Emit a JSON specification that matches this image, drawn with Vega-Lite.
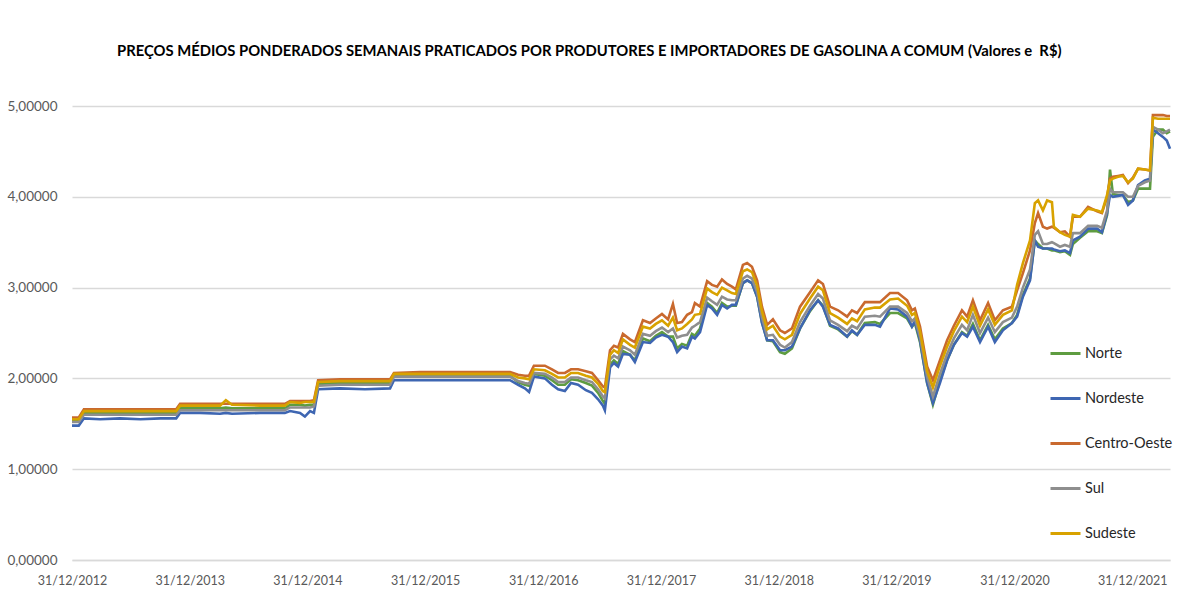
{
  "$schema": "https://vega.github.io/schema/vega-lite/v6.json",
  "width": 1098,
  "height": 454,
  "autosize": "none",
  "padding": {"left": 72, "top": 106, "right": 8, "bottom": 48},
  "background": "white",
  "title": {
    "text": "PREÇOS MÉDIOS PONDERADOS SEMANAIS PRATICADOS POR PRODUTORES E IMPORTADORES DE GASOLINA A COMUM (Valores e\u00a0 R$)",
    "anchor": "start",
    "frame": "group",
    "dx": 45,
    "offset": 25,
    "baseline": "bottom",
    "font": "Lato",
    "fontSize": 14.8,
    "fontWeight": "bold",
    "color": "#000000"
  },
  "data": {
    "values": [
      {"d": "2012-12-31", "CO": 1.57, "SE": 1.55, "S": 1.52, "N": 1.53, "NE": 1.48},
      {"d": "2013-01-21", "CO": 1.57, "SE": 1.55, "S": 1.52, "N": 1.53, "NE": 1.48},
      {"d": "2013-02-06", "CO": 1.66, "SE": 1.64, "S": 1.60, "N": 1.62, "NE": 1.56},
      {"d": "2013-03-28", "CO": 1.66, "SE": 1.64, "S": 1.60, "N": 1.62, "NE": 1.55},
      {"d": "2013-05-29", "CO": 1.66, "SE": 1.64, "S": 1.60, "N": 1.62, "NE": 1.56},
      {"d": "2013-07-31", "CO": 1.66, "SE": 1.64, "S": 1.60, "N": 1.62, "NE": 1.55},
      {"d": "2013-10-01", "CO": 1.66, "SE": 1.64, "S": 1.60, "N": 1.62, "NE": 1.56},
      {"d": "2013-11-19", "CO": 1.66, "SE": 1.64, "S": 1.60, "N": 1.62, "NE": 1.56},
      {"d": "2013-12-01", "CO": 1.72, "SE": 1.70, "S": 1.65, "N": 1.67, "NE": 1.62},
      {"d": "2014-02-01", "CO": 1.72, "SE": 1.70, "S": 1.65, "N": 1.67, "NE": 1.62},
      {"d": "2014-04-04", "CO": 1.72, "SE": 1.70, "S": 1.65, "N": 1.67, "NE": 1.61},
      {"d": "2014-04-22", "CO": 1.72, "SE": 1.76, "S": 1.65, "N": 1.68, "NE": 1.62},
      {"d": "2014-05-11", "CO": 1.72, "SE": 1.71, "S": 1.65, "N": 1.67, "NE": 1.61},
      {"d": "2014-08-06", "CO": 1.72, "SE": 1.70, "S": 1.65, "N": 1.67, "NE": 1.62},
      {"d": "2014-10-22", "CO": 1.72, "SE": 1.70, "S": 1.65, "N": 1.67, "NE": 1.62},
      {"d": "2014-11-07", "CO": 1.75, "SE": 1.74, "S": 1.68, "N": 1.71, "NE": 1.64},
      {"d": "2014-12-08", "CO": 1.75, "SE": 1.73, "S": 1.68, "N": 1.71, "NE": 1.62},
      {"d": "2014-12-23", "CO": 1.75, "SE": 1.74, "S": 1.68, "N": 1.70, "NE": 1.58},
      {"d": "2015-01-08", "CO": 1.75, "SE": 1.74, "S": 1.68, "N": 1.71, "NE": 1.64},
      {"d": "2015-01-20", "CO": 1.76, "SE": 1.74, "S": 1.69, "N": 1.71, "NE": 1.62},
      {"d": "2015-02-02", "CO": 1.98, "SE": 1.96, "S": 1.92, "N": 1.94, "NE": 1.88},
      {"d": "2015-04-11", "CO": 1.99, "SE": 1.97, "S": 1.93, "N": 1.95, "NE": 1.89},
      {"d": "2015-06-27", "CO": 1.99, "SE": 1.97, "S": 1.93, "N": 1.95, "NE": 1.88},
      {"d": "2015-09-13", "CO": 1.99, "SE": 1.97, "S": 1.93, "N": 1.95, "NE": 1.89},
      {"d": "2015-09-25", "CO": 2.06, "SE": 2.05, "S": 2.02, "N": 2.03, "NE": 1.98},
      {"d": "2015-12-15", "CO": 2.07, "SE": 2.05, "S": 2.02, "N": 2.03, "NE": 1.98},
      {"d": "2016-03-17", "CO": 2.07, "SE": 2.05, "S": 2.02, "N": 2.03, "NE": 1.98},
      {"d": "2016-06-18", "CO": 2.07, "SE": 2.05, "S": 2.02, "N": 2.03, "NE": 1.98},
      {"d": "2016-09-19", "CO": 2.07, "SE": 2.05, "S": 2.02, "N": 2.03, "NE": 1.98},
      {"d": "2016-10-14", "CO": 2.04, "SE": 2.01, "S": 1.97, "N": 1.96, "NE": 1.93},
      {"d": "2016-11-04", "CO": 2.03, "SE": 2.00, "S": 1.95, "N": 1.93, "NE": 1.89},
      {"d": "2016-11-17", "CO": 2.03, "SE": 1.99, "S": 1.94, "N": 1.92, "NE": 1.85},
      {"d": "2016-12-02", "CO": 2.14, "SE": 2.10, "S": 2.06, "N": 2.05, "NE": 2.02},
      {"d": "2017-01-05", "CO": 2.14, "SE": 2.09, "S": 2.05, "N": 2.03, "NE": 2.00},
      {"d": "2017-01-27", "CO": 2.10, "SE": 2.05, "S": 2.01, "N": 1.98, "NE": 1.93},
      {"d": "2017-02-15", "CO": 2.06, "SE": 2.01, "S": 1.96, "N": 1.93, "NE": 1.88},
      {"d": "2017-03-08", "CO": 2.06, "SE": 2.01, "S": 1.96, "N": 1.93, "NE": 1.86},
      {"d": "2017-03-27", "CO": 2.10, "SE": 2.06, "S": 2.01, "N": 1.99, "NE": 1.95},
      {"d": "2017-04-18", "CO": 2.10, "SE": 2.06, "S": 2.01, "N": 1.98, "NE": 1.93},
      {"d": "2017-05-12", "CO": 2.08, "SE": 2.03, "S": 1.98, "N": 1.95, "NE": 1.87},
      {"d": "2017-05-31", "CO": 2.06, "SE": 2.01, "S": 1.96, "N": 1.92, "NE": 1.84},
      {"d": "2017-06-19", "CO": 1.98, "SE": 1.94, "S": 1.88, "N": 1.84, "NE": 1.77},
      {"d": "2017-07-04", "CO": 1.91, "SE": 1.86, "S": 1.80, "N": 1.75, "NE": 1.70},
      {"d": "2017-07-10", "CO": 1.90, "SE": 1.85, "S": 1.78, "N": 1.72, "NE": 1.65},
      {"d": "2017-07-26", "CO": 2.31, "SE": 2.26, "S": 2.21, "N": 2.15, "NE": 2.12},
      {"d": "2017-08-07", "CO": 2.36, "SE": 2.31, "S": 2.25, "N": 2.20, "NE": 2.17},
      {"d": "2017-08-20", "CO": 2.34, "SE": 2.28, "S": 2.22, "N": 2.16, "NE": 2.13},
      {"d": "2017-09-04", "CO": 2.49, "SE": 2.43, "S": 2.35, "N": 2.30, "NE": 2.27},
      {"d": "2017-09-26", "CO": 2.43, "SE": 2.37, "S": 2.31, "N": 2.26, "NE": 2.26},
      {"d": "2017-10-11", "CO": 2.40, "SE": 2.34, "S": 2.26, "N": 2.20, "NE": 2.18},
      {"d": "2017-11-05", "CO": 2.64, "SE": 2.57, "S": 2.49, "N": 2.44, "NE": 2.40},
      {"d": "2017-11-27", "CO": 2.61, "SE": 2.55, "S": 2.47, "N": 2.41, "NE": 2.39},
      {"d": "2017-12-15", "CO": 2.66, "SE": 2.60, "S": 2.52, "N": 2.47, "NE": 2.45},
      {"d": "2018-01-03", "CO": 2.71, "SE": 2.64, "S": 2.56, "N": 2.51, "NE": 2.48},
      {"d": "2018-01-22", "CO": 2.65, "SE": 2.58, "S": 2.51, "N": 2.46, "NE": 2.46},
      {"d": "2018-02-06", "CO": 2.82, "SE": 2.67, "S": 2.55, "N": 2.46, "NE": 2.40},
      {"d": "2018-02-19", "CO": 2.61, "SE": 2.53, "S": 2.45, "N": 2.33, "NE": 2.29},
      {"d": "2018-03-06", "CO": 2.62, "SE": 2.55, "S": 2.47, "N": 2.38, "NE": 2.35},
      {"d": "2018-03-22", "CO": 2.70, "SE": 2.60, "S": 2.48, "N": 2.36, "NE": 2.33},
      {"d": "2018-04-06", "CO": 2.73, "SE": 2.65, "S": 2.56, "N": 2.49, "NE": 2.46},
      {"d": "2018-04-15", "CO": 2.83, "SE": 2.70, "S": 2.58, "N": 2.47, "NE": 2.44},
      {"d": "2018-05-01", "CO": 2.79, "SE": 2.71, "S": 2.62, "N": 2.55, "NE": 2.51},
      {"d": "2018-05-23", "CO": 3.07, "SE": 2.99, "S": 2.89, "N": 2.83, "NE": 2.81},
      {"d": "2018-06-07", "CO": 3.03, "SE": 2.95, "S": 2.85, "N": 2.79, "NE": 2.77},
      {"d": "2018-06-23", "CO": 3.01, "SE": 2.92, "S": 2.81, "N": 2.72, "NE": 2.70},
      {"d": "2018-07-08", "CO": 3.09, "SE": 3.00, "S": 2.90, "N": 2.83, "NE": 2.81},
      {"d": "2018-07-24", "CO": 3.04, "SE": 2.97, "S": 2.87, "N": 2.79, "NE": 2.77},
      {"d": "2018-08-08", "CO": 3.01, "SE": 2.94, "S": 2.86, "N": 2.80, "NE": 2.81},
      {"d": "2018-08-20", "CO": 2.98, "SE": 2.93, "S": 2.86, "N": 2.80, "NE": 2.81},
      {"d": "2018-09-11", "CO": 3.25, "SE": 3.18, "S": 3.10, "N": 3.05, "NE": 3.05},
      {"d": "2018-09-24", "CO": 3.27, "SE": 3.20, "S": 3.13, "N": 3.08, "NE": 3.08},
      {"d": "2018-10-09", "CO": 3.23, "SE": 3.17, "S": 3.10, "N": 3.05, "NE": 3.05},
      {"d": "2018-10-25", "CO": 3.08, "SE": 3.02, "S": 2.95, "N": 2.90, "NE": 2.90},
      {"d": "2018-11-09", "CO": 2.79, "SE": 2.74, "S": 2.67, "N": 2.62, "NE": 2.61},
      {"d": "2018-11-25", "CO": 2.59, "SE": 2.54, "S": 2.47, "N": 2.42, "NE": 2.42},
      {"d": "2018-12-13", "CO": 2.65, "SE": 2.58, "S": 2.48, "N": 2.41, "NE": 2.42},
      {"d": "2019-01-04", "CO": 2.53, "SE": 2.46, "S": 2.37, "N": 2.29, "NE": 2.31},
      {"d": "2019-01-19", "CO": 2.50, "SE": 2.43, "S": 2.34, "N": 2.27, "NE": 2.31},
      {"d": "2019-02-10", "CO": 2.55, "SE": 2.48, "S": 2.40, "N": 2.33, "NE": 2.35},
      {"d": "2019-03-07", "CO": 2.79, "SE": 2.71, "S": 2.62, "N": 2.55, "NE": 2.55},
      {"d": "2019-04-07", "CO": 2.95, "SE": 2.88, "S": 2.80, "N": 2.74, "NE": 2.75},
      {"d": "2019-05-02", "CO": 3.08, "SE": 3.01, "S": 2.93, "N": 2.86, "NE": 2.86},
      {"d": "2019-05-17", "CO": 3.04, "SE": 2.97, "S": 2.88, "N": 2.80, "NE": 2.79},
      {"d": "2019-06-08", "CO": 2.79, "SE": 2.72, "S": 2.64, "N": 2.58, "NE": 2.59},
      {"d": "2019-07-03", "CO": 2.75, "SE": 2.67, "S": 2.59, "N": 2.54, "NE": 2.55},
      {"d": "2019-07-31", "CO": 2.68, "SE": 2.60, "S": 2.52, "N": 2.46, "NE": 2.46},
      {"d": "2019-08-15", "CO": 2.75, "SE": 2.66, "S": 2.58, "N": 2.52, "NE": 2.53},
      {"d": "2019-08-31", "CO": 2.72, "SE": 2.63, "S": 2.55, "N": 2.48, "NE": 2.48},
      {"d": "2019-09-24", "CO": 2.84, "SE": 2.76, "S": 2.68, "N": 2.61, "NE": 2.59},
      {"d": "2019-10-25", "CO": 2.84, "SE": 2.78, "S": 2.69, "N": 2.62, "NE": 2.59},
      {"d": "2019-11-10", "CO": 2.84, "SE": 2.78, "S": 2.68, "N": 2.60, "NE": 2.57},
      {"d": "2019-12-11", "CO": 2.94, "SE": 2.87, "S": 2.79, "N": 2.72, "NE": 2.77},
      {"d": "2020-01-05", "CO": 2.94, "SE": 2.88, "S": 2.79, "N": 2.72, "NE": 2.76},
      {"d": "2020-02-02", "CO": 2.86, "SE": 2.80, "S": 2.72, "N": 2.66, "NE": 2.68},
      {"d": "2020-02-17", "CO": 2.75, "SE": 2.70, "S": 2.63, "N": 2.57, "NE": 2.57},
      {"d": "2020-02-26", "CO": 2.77, "SE": 2.72, "S": 2.66, "N": 2.61, "NE": 2.63},
      {"d": "2020-03-13", "CO": 2.57, "SE": 2.52, "S": 2.46, "N": 2.40, "NE": 2.42},
      {"d": "2020-04-04", "CO": 2.13, "SE": 2.08, "S": 2.02, "N": 1.95, "NE": 1.95},
      {"d": "2020-04-22", "CO": 1.98, "SE": 1.90, "S": 1.80, "N": 1.71, "NE": 1.73},
      {"d": "2020-05-14", "CO": 2.20, "SE": 2.14, "S": 2.05, "N": 1.98, "NE": 1.95},
      {"d": "2020-06-05", "CO": 2.42, "SE": 2.35, "S": 2.27, "N": 2.20, "NE": 2.20},
      {"d": "2020-06-26", "CO": 2.58, "SE": 2.52, "S": 2.44, "N": 2.37, "NE": 2.37},
      {"d": "2020-07-21", "CO": 2.75, "SE": 2.68, "S": 2.59, "N": 2.51, "NE": 2.50},
      {"d": "2020-08-06", "CO": 2.68, "SE": 2.62, "S": 2.53, "N": 2.47, "NE": 2.46},
      {"d": "2020-08-24", "CO": 2.86, "SE": 2.79, "S": 2.70, "N": 2.60, "NE": 2.57},
      {"d": "2020-09-15", "CO": 2.64, "SE": 2.58, "S": 2.50, "N": 2.42, "NE": 2.40},
      {"d": "2020-10-10", "CO": 2.83, "SE": 2.76, "S": 2.67, "N": 2.59, "NE": 2.57},
      {"d": "2020-10-31", "CO": 2.64, "SE": 2.59, "S": 2.51, "N": 2.43, "NE": 2.40},
      {"d": "2020-11-25", "CO": 2.75, "SE": 2.70, "S": 2.62, "N": 2.55, "NE": 2.53},
      {"d": "2020-12-23", "CO": 2.79, "SE": 2.75, "S": 2.67, "N": 2.61, "NE": 2.61},
      {"d": "2021-01-08", "CO": 2.97, "SE": 3.03, "S": 2.79, "N": 2.70, "NE": 2.68},
      {"d": "2021-01-26", "CO": 3.16, "SE": 3.27, "S": 3.00, "N": 2.92, "NE": 2.90},
      {"d": "2021-02-17", "CO": 3.41, "SE": 3.52, "S": 3.20, "N": 3.10, "NE": 3.08},
      {"d": "2021-03-04", "CO": 3.71, "SE": 3.93, "S": 3.58, "N": 3.52, "NE": 3.52},
      {"d": "2021-03-14", "CO": 3.82, "SE": 3.96, "S": 3.62, "N": 3.48, "NE": 3.45},
      {"d": "2021-03-29", "CO": 3.67, "SE": 3.85, "S": 3.48, "N": 3.43, "NE": 3.43},
      {"d": "2021-04-11", "CO": 3.65, "SE": 3.96, "S": 3.48, "N": 3.43, "NE": 3.43},
      {"d": "2021-04-26", "CO": 3.67, "SE": 3.94, "S": 3.50, "N": 3.41, "NE": 3.43},
      {"d": "2021-05-02", "CO": 3.66, "SE": 3.67, "S": 3.49, "N": 3.41, "NE": 3.42},
      {"d": "2021-05-21", "CO": 3.61, "SE": 3.61, "S": 3.45, "N": 3.39, "NE": 3.40},
      {"d": "2021-06-05", "CO": 3.62, "SE": 3.58, "S": 3.47, "N": 3.40, "NE": 3.41},
      {"d": "2021-06-21", "CO": 3.56, "SE": 3.56, "S": 3.45, "N": 3.36, "NE": 3.38},
      {"d": "2021-06-30", "CO": 3.78, "SE": 3.80, "S": 3.60, "N": 3.48, "NE": 3.52},
      {"d": "2021-07-22", "CO": 3.78, "SE": 3.78, "S": 3.60, "N": 3.55, "NE": 3.56},
      {"d": "2021-08-16", "CO": 3.89, "SE": 3.87, "S": 3.68, "N": 3.62, "NE": 3.65},
      {"d": "2021-09-13", "CO": 3.84, "SE": 3.85, "S": 3.68, "N": 3.62, "NE": 3.65},
      {"d": "2021-09-28", "CO": 3.82, "SE": 3.83, "S": 3.66, "N": 3.60, "NE": 3.61},
      {"d": "2021-10-14", "CO": 4.00, "SE": 4.02, "S": 3.85, "N": 3.80, "NE": 3.82},
      {"d": "2021-10-23", "CO": 4.20, "SE": 4.18, "S": 4.09, "N": 4.30, "NE": 4.02},
      {"d": "2021-11-01", "CO": 4.22, "SE": 4.20, "S": 4.05, "N": 4.03, "NE": 4.00},
      {"d": "2021-11-17", "CO": 4.23, "SE": 4.22, "S": 4.05, "N": 4.02, "NE": 4.01},
      {"d": "2021-12-02", "CO": 4.24, "SE": 4.23, "S": 4.05, "N": 4.02, "NE": 4.02},
      {"d": "2021-12-18", "CO": 4.15, "SE": 4.16, "S": 4.00, "N": 3.94, "NE": 3.91},
      {"d": "2022-01-02", "CO": 4.21, "SE": 4.20, "S": 4.00, "N": 3.96, "NE": 3.96},
      {"d": "2022-01-18", "CO": 4.31, "SE": 4.31, "S": 4.12, "N": 4.09, "NE": 4.13},
      {"d": "2022-02-08", "CO": 4.30, "SE": 4.30, "S": 4.16, "N": 4.09, "NE": 4.18},
      {"d": "2022-02-24", "CO": 4.29, "SE": 4.29, "S": 4.18, "N": 4.09, "NE": 4.20},
      {"d": "2022-03-05", "CO": 4.90, "SE": 4.87, "S": 4.77, "N": 4.66, "NE": 4.74},
      {"d": "2022-03-21", "CO": 4.90, "SE": 4.86, "S": 4.74, "N": 4.74, "NE": 4.70},
      {"d": "2022-04-05", "CO": 4.90, "SE": 4.86, "S": 4.70, "N": 4.74, "NE": 4.66},
      {"d": "2022-04-17", "CO": 4.89, "SE": 4.86, "S": 4.72, "N": 4.70, "NE": 4.62},
      {"d": "2022-04-27", "CO": 4.89, "SE": 4.86, "S": 4.74, "N": 4.72, "NE": 4.53}
    ]
  },
  "encoding": {
    "x": {
      "field": "d",
      "type": "temporal",
      "title": null,
      "scale": {
        "type": "utc",
        "domain": [
          {"year": 2012, "month": 12, "date": 31, "utc": true},
          {"year": 2022, "month": 4, "date": 27, "utc": true}
        ]
      },
      "axis": {
        "values": [
          {"year": 2012, "month": 12, "date": 31, "utc": true},
          {"year": 2013, "month": 12, "date": 31, "utc": true},
          {"year": 2014, "month": 12, "date": 31, "utc": true},
          {"year": 2015, "month": 12, "date": 31, "utc": true},
          {"year": 2016, "month": 12, "date": 31, "utc": true},
          {"year": 2017, "month": 12, "date": 31, "utc": true},
          {"year": 2018, "month": 12, "date": 31, "utc": true},
          {"year": 2019, "month": 12, "date": 31, "utc": true},
          {"year": 2020, "month": 12, "date": 31, "utc": true},
          {"year": 2021, "month": 12, "date": 31, "utc": true}
        ],
        "labelExpr": "utcFormat(datum.value, '%d/%m/%Y')",
        "labelFont": "Lato",
        "labelFontSize": 12.5,
        "labelColor": "#595959",
        "labelPadding": 14,
        "labelOverlap": false,
        "labelFlush": false,
        "ticks": false,
        "grid": false,
        "domain": true,
        "domainColor": "#D9D9D9",
        "domainWidth": 1.5
      }
    }
  },
  "layer": [
    {
      "mark": {"type": "line", "strokeWidth": 2.6},
      "encoding": {
        "y": {"field": "N", "type": "quantitative", "title": null, "scale": {"domain": [0, 5]}},
        "color": {"datum": "Norte", "scale": {"domain": ["Norte", "Nordeste", "Centro-Oeste", "Sul", "Sudeste"], "range": ["#5E9C40", "#3E66B2", "#C9692E", "#8E8E8E", "#D8A200"]}, "legend": {"title": null}}
      }
    },
    {
      "mark": {"type": "line", "strokeWidth": 2.6},
      "encoding": {
        "y": {"field": "NE", "type": "quantitative", "title": null, "scale": {"domain": [0, 5]}},
        "color": {"datum": "Nordeste", "scale": {"domain": ["Norte", "Nordeste", "Centro-Oeste", "Sul", "Sudeste"], "range": ["#5E9C40", "#3E66B2", "#C9692E", "#8E8E8E", "#D8A200"]}, "legend": {"title": null}}
      }
    },
    {
      "mark": {"type": "line", "strokeWidth": 2.6},
      "encoding": {
        "y": {"field": "CO", "type": "quantitative", "title": null, "scale": {"domain": [0, 5]}},
        "color": {"datum": "Centro-Oeste", "scale": {"domain": ["Norte", "Nordeste", "Centro-Oeste", "Sul", "Sudeste"], "range": ["#5E9C40", "#3E66B2", "#C9692E", "#8E8E8E", "#D8A200"]}, "legend": {"title": null}}
      }
    },
    {
      "mark": {"type": "line", "strokeWidth": 2.6},
      "encoding": {
        "y": {"field": "S", "type": "quantitative", "title": null, "scale": {"domain": [0, 5]}},
        "color": {"datum": "Sul", "scale": {"domain": ["Norte", "Nordeste", "Centro-Oeste", "Sul", "Sudeste"], "range": ["#5E9C40", "#3E66B2", "#C9692E", "#8E8E8E", "#D8A200"]}, "legend": {"title": null}}
      }
    },
    {
      "mark": {"type": "line", "strokeWidth": 2.6},
      "encoding": {
        "y": {"field": "SE", "type": "quantitative", "title": null, "scale": {"domain": [0, 5]}},
        "color": {"datum": "Sudeste", "scale": {"domain": ["Norte", "Nordeste", "Centro-Oeste", "Sul", "Sudeste"], "range": ["#5E9C40", "#3E66B2", "#C9692E", "#8E8E8E", "#D8A200"]}, "legend": {"title": null}}
      }
    }
  ],
  "config": {
    "view": {"stroke": null},
    "axisY": {
      "tickCount": 5,
      "labelExpr": "replace(format(datum.value, '.5f'), '.', ',')",
      "labelFont": "Lato",
      "labelFontSize": 13.5,
      "labelColor": "#595959",
      "labelPadding": 15,
      "ticks": false,
      "domain": false,
      "grid": true,
      "gridColor": "#D9D9D9",
      "gridWidth": 1.3
    },
    "legend": {
      "orient": "none",
      "legendX": 977,
      "legendY": 231,
      "padding": 0,
      "symbolType": "stroke",
      "symbolSize": 900,
      "symbolStrokeWidth": 3,
      "labelFont": "Lato",
      "labelFontSize": 14.5,
      "labelColor": "#262626",
      "labelOffset": 3,
      "rowPadding": 22
    }
  }
}
